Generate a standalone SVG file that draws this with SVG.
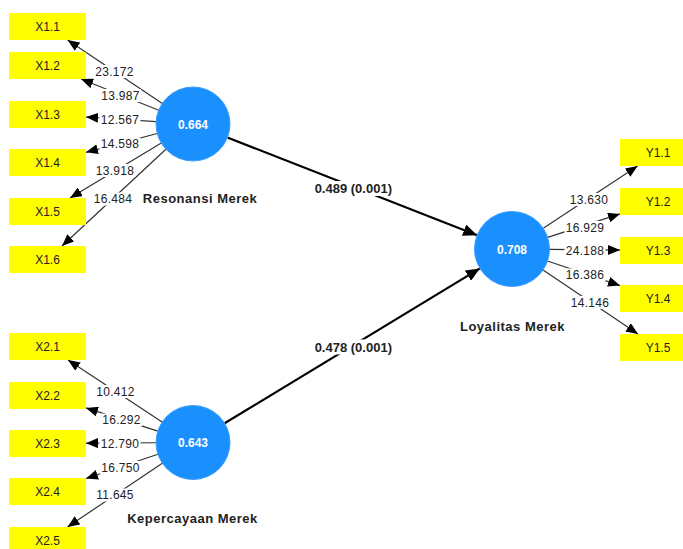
<svg xmlns="http://www.w3.org/2000/svg" width="683" height="549" viewBox="0 0 683 549">
<style>
.box{fill:#ffff00}
.bt{font-family:"Liberation Sans",Arial,sans-serif;font-size:12px;fill:#222;text-anchor:middle}
.lv{fill:#1a90ff;stroke:#3c9eff;stroke-width:1}
.lt{font-family:"Liberation Sans",Arial,sans-serif;font-size:12px;font-weight:bold;fill:#fff;text-anchor:middle}
.ln{font-family:"Liberation Sans",Arial,sans-serif;font-size:13px;font-weight:bold;fill:#222;text-anchor:middle;letter-spacing:0.5px}
.m{stroke:#333;stroke-width:1.2;fill:none;marker-end:url(#am)}
.s{stroke:#000;stroke-width:2.2;fill:none;marker-end:url(#as)}
.bg{fill:#fff}
.nl{font-family:"Liberation Sans",Arial,sans-serif;font-size:12px;fill:#222;text-anchor:middle;letter-spacing:0.3px}
.pl{font-family:"Liberation Sans",Arial,sans-serif;font-size:13px;font-weight:bold;fill:#222;text-anchor:middle}
</style>
<defs>
<marker id="am" markerUnits="userSpaceOnUse" markerWidth="12" markerHeight="10" viewBox="0 0 12 10" refX="12" refY="5" orient="auto"><path d="M0,0 L12,5 L0,10 Z" fill="#000"/></marker>
<marker id="as" markerUnits="userSpaceOnUse" markerWidth="14" markerHeight="12" viewBox="0 0 14 12" refX="14" refY="6" orient="auto"><path d="M0,0 L14,6 L0,12 Z" fill="#000"/></marker>
</defs>
<rect width="683" height="549" fill="#fff"/>
<g id="connectors">
<line class="m" x1="162.3" y1="103.4" x2="67.6" y2="40"/>
<line class="m" x1="158.7" y1="110.2" x2="81.1" y2="79"/>
<line class="m" x1="156.1" y1="121.6" x2="86" y2="117"/>
<line class="m" x1="157.2" y1="133.5" x2="86" y2="152.3"/>
<line class="m" x1="161.3" y1="143.1" x2="70" y2="198"/>
<line class="m" x1="165.9" y1="149.2" x2="62" y2="246"/>
<line class="m" x1="162.1" y1="422.1" x2="68" y2="360"/>
<line class="m" x1="157.8" y1="431.1" x2="86" y2="407.9"/>
<line class="m" x1="156" y1="442.75" x2="86" y2="443.2"/>
<line class="m" x1="157.9" y1="454.3" x2="86" y2="478.5"/>
<line class="m" x1="162.3" y1="463.2" x2="67.5" y2="527"/>
<line class="m" x1="543.3" y1="228.3" x2="637.6" y2="166"/>
<line class="m" x1="547.7" y1="237.4" x2="620" y2="213.9"/>
<line class="m" x1="549.5" y1="249.4" x2="620" y2="250.1"/>
<line class="m" x1="547.5" y1="261" x2="620" y2="285.6"/>
<line class="m" x1="543.1" y1="270" x2="638" y2="334"/>
<line class="s" x1="227.4" y1="137.5" x2="477.1" y2="235.3"/>
<line class="s" x1="224.6" y1="423.3" x2="479.9" y2="268.4"/>
<g>
<rect class="bg" x="94" y="65" width="41" height="13"/><text class="nl" x="114.5" y="76">23.172</text>
<rect class="bg" x="100" y="89" width="41" height="13"/><text class="nl" x="120.5" y="100">13.987</text>
<rect class="bg" x="99.5" y="113" width="41" height="13"/><text class="nl" x="120" y="123.5">12.567</text>
<rect class="bg" x="99.5" y="137.5" width="41" height="13"/><text class="nl" x="120" y="148.3">14.598</text>
<rect class="bg" x="94.5" y="164" width="41" height="13"/><text class="nl" x="115" y="175">13.918</text>
<rect class="bg" x="92.5" y="192.5" width="41" height="13"/><text class="nl" x="113" y="203.3">16.484</text>
<rect class="bg" x="95" y="385" width="41" height="13"/><text class="nl" x="115.5" y="396">10.412</text>
<rect class="bg" x="101" y="413.5" width="41" height="13"/><text class="nl" x="121.5" y="424.3">16.292</text>
<rect class="bg" x="99.5" y="437.5" width="41" height="13"/><text class="nl" x="120" y="448.3">12.790</text>
<rect class="bg" x="100" y="461" width="41" height="13"/><text class="nl" x="120.5" y="471.6">16.750</text>
<rect class="bg" x="94.5" y="488.5" width="41" height="13"/><text class="nl" x="115" y="499.3">11.645</text>
<rect class="bg" x="568" y="193" width="41" height="13"/><text class="nl" x="589" y="203.6">13.630</text>
<rect class="bg" x="564.5" y="221" width="41" height="13"/><text class="nl" x="585" y="232">16.929</text>
<rect class="bg" x="564.5" y="244.5" width="41" height="13"/><text class="nl" x="585" y="255">24.188</text>
<rect class="bg" x="564.5" y="268.5" width="41" height="13"/><text class="nl" x="585" y="279.3">16.386</text>
<rect class="bg" x="569.5" y="296" width="41" height="13"/><text class="nl" x="590" y="307">14.146</text>
<rect class="bg" x="313" y="181" width="81" height="15"/><text class="pl" x="353.3" y="193">0.489 (0.001)</text>
<rect class="bg" x="313" y="339.5" width="81" height="15"/><text class="pl" x="353.3" y="351.5">0.478 (0.001)</text>
</g>
</g>
<g id="X1.1"><rect class="box" x="9" y="13" width="77" height="27"/><text class="bt" x="47.5" y="31">X1.1</text></g>
<g id="X1.2"><rect class="box" x="9" y="52" width="77" height="27"/><text class="bt" x="47.5" y="70">X1.2</text></g>
<g id="X1.3"><rect class="box" x="9" y="101" width="77" height="27"/><text class="bt" x="47.5" y="119">X1.3</text></g>
<g id="X1.4"><rect class="box" x="9" y="149" width="77" height="27"/><text class="bt" x="47.5" y="167">X1.4</text></g>
<g id="X1.5"><rect class="box" x="9" y="198" width="77" height="27"/><text class="bt" x="47.5" y="216">X1.5</text></g>
<g id="X1.6"><rect class="box" x="9" y="246" width="77" height="27"/><text class="bt" x="47.5" y="264">X1.6</text></g>
<g id="X2.1"><rect class="box" x="9" y="333" width="77" height="27"/><text class="bt" x="47.5" y="351">X2.1</text></g>
<g id="X2.2"><rect class="box" x="9" y="382" width="77" height="27"/><text class="bt" x="47.5" y="400">X2.2</text></g>
<g id="X2.3"><rect class="box" x="9" y="430" width="77" height="27"/><text class="bt" x="47.5" y="448">X2.3</text></g>
<g id="X2.4"><rect class="box" x="9" y="478" width="77" height="27"/><text class="bt" x="47.5" y="496">X2.4</text></g>
<g id="X2.5"><rect class="box" x="9" y="527" width="77" height="27"/><text class="bt" x="47.5" y="545">X2.5</text></g>
<g id="Y1.1"><rect class="box" x="620" y="139" width="77" height="27"/><text class="bt" x="658" y="157">Y1.1</text></g>
<g id="Y1.2"><rect class="box" x="620" y="188" width="77" height="27"/><text class="bt" x="658" y="206">Y1.2</text></g>
<g id="Y1.3"><rect class="box" x="620" y="237" width="77" height="27"/><text class="bt" x="658" y="255">Y1.3</text></g>
<g id="Y1.4"><rect class="box" x="620" y="285" width="77" height="27"/><text class="bt" x="658" y="303">Y1.4</text></g>
<g id="Y1.5"><rect class="box" x="620" y="334" width="77" height="27"/><text class="bt" x="658" y="352">Y1.5</text></g>
<g id="ResonansiMerek"><circle class="lv" cx="193" cy="124" r="37"/><text class="lt" x="193" y="128.5">0.664</text><text class="ln" x="200" y="203.3">Resonansi Merek</text></g>
<g id="KepercayaanMerek"><circle class="lv" cx="193" cy="442.5" r="37"/><text class="lt" x="193" y="447">0.643</text><text class="ln" x="192.5" y="523">Kepercayaan Merek</text></g>
<g id="LoyalitasMerek"><circle class="lv" cx="512" cy="249" r="37.5"/><text class="lt" x="512" y="253.5">0.708</text><text class="ln" x="512.5" y="331">Loyalitas Merek</text></g>
</svg>
